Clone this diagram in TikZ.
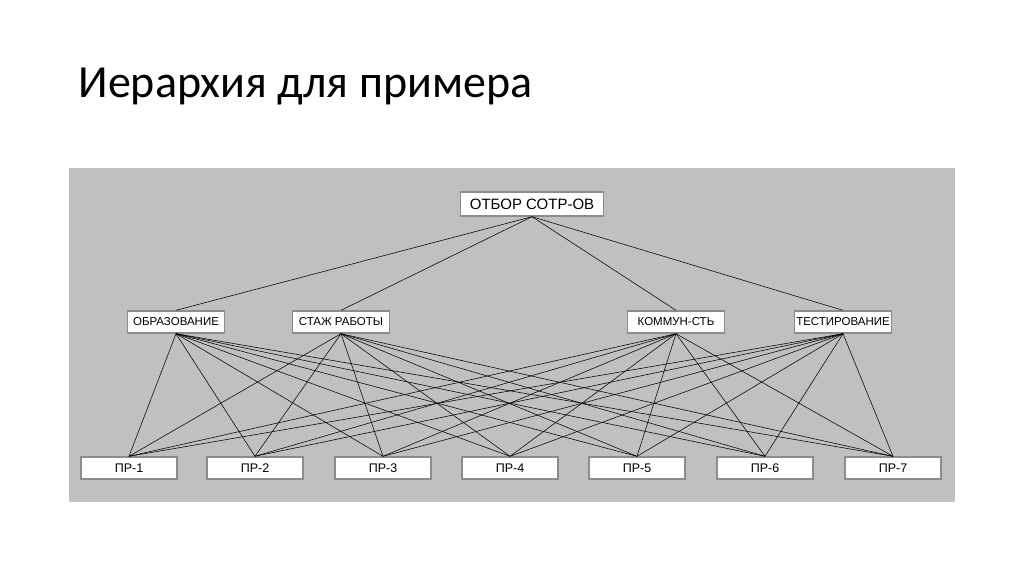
\documentclass[tikz,border=0pt]{standalone}
\usepackage{fontspec}
\setmainfont{Liberation Sans}
\newfontfamily\titlefont{Carlito}
\definecolor{panel}{RGB}{192,192,192}
\definecolor{frame}{RGB}{140,140,140}
\begin{document}
\begin{tikzpicture}[x=1pt,y=-1pt,
  box/.style={draw=frame,fill=white,line width=1.4pt,inner sep=0pt,
    font=\fontsize{11.5}{13}\selectfont},
  topbox/.style={box,minimum width=143pt,minimum height=24pt,font=\fontsize{15}{17}\selectfont},
  midbox/.style={box,minimum width=97pt,minimum height=22pt},
  botbox/.style={box,minimum width=96pt,minimum height=22pt,font=\fontsize{12.5}{14}\selectfont},
  link/.style={draw=black,line width=0.55pt}]
\useasboundingbox[fill=white] (0,0) rectangle (1024,574);
\fill[panel] (69,168) rectangle (955,502);
\node[anchor=west,font=\titlefont\fontsize{46}{52}\selectfont] (title) at (75,87) {Иерархия для примера};
\node[topbox] (t) at (532,204) {ОТБОР СОТР-ОВ};
\node[midbox] (m1) at (176,322) {ОБРАЗОВАНИЕ};
\node[midbox] (m2) at (341,322) {СТАЖ РАБОТЫ};
\node[midbox] (m3) at (676,322) {КОММУН-СТЬ};
\node[midbox] (m4) at (843,322) {ТЕСТИРОВАНИЕ};
\node[botbox] (b1) at (129,468) {ПР-1};
\node[botbox] (b2) at (255,468) {ПР-2};
\node[botbox] (b3) at (383,468) {ПР-3};
\node[botbox] (b4) at (510,468) {ПР-4};
\node[botbox] (b5) at (637,468) {ПР-5};
\node[botbox] (b6) at (765,468) {ПР-6};
\node[botbox] (b7) at (893,468) {ПР-7};
\foreach \m in {m1,m2,m3,m4} \draw[link] (t.south) -- (\m.north);
\foreach \m in {m1,m2,m3,m4}
  \foreach \b in {b1,b2,b3,b4,b5,b6,b7}
    \draw[link] (\m.south) -- (\b.north);
\end{tikzpicture}
\end{document}
